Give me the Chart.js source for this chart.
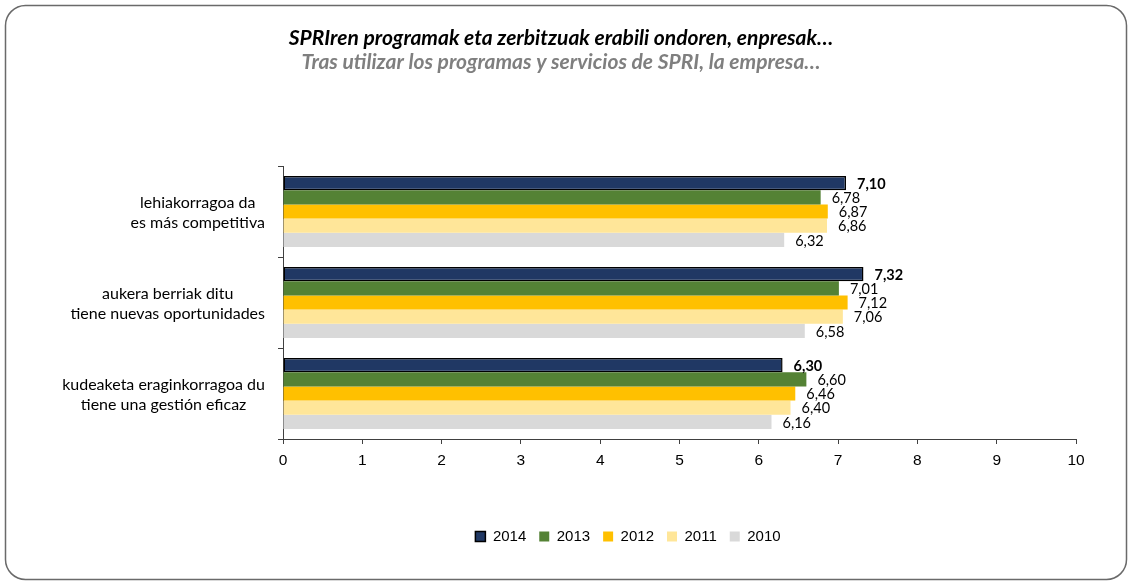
<!DOCTYPE html>
<html>
<head>
<meta charset="utf-8">
<script src="https://cdn.jsdelivr.net/npm/chart.js@4.4.1/dist/chart.umd.min.js"></script>
<style>
html,body{margin:0;padding:0;background:#fff;}
#wrap{position:relative;width:1132px;height:585px;}
</style>
</head>
<body>
<div id="wrap"><canvas id="c"></canvas></div>
<script>
// ---- data ----
const categories = [
  ['lehiakorragoa da', 'es más competitiva'],
  ['aukera berriak ditu', 'tiene nuevas oportunidades'],
  ['kudeaketa eraginkorragoa du', 'tiene una gestión eficaz']
];
const seriesNames = ['2014', '2013', '2012', '2011', '2010'];
const values2014 = [7.10, 7.32, 6.30];
const values2013 = [6.78, 7.01, 6.60];
const values2012 = [6.87, 7.12, 6.46];
const values2011 = [6.86, 7.06, 6.40];
const values2010 = [6.32, 6.58, 6.16];
const xTickLabels = ['0','1','2','3','4','5','6','7','8','9','10'];
const titleText = 'SPRIren programak eta zerbitzuak erabili ondoren, enpresak…';
const subtitleText = 'Tras utilizar los programas y servicios de SPRI, la empresa…';

// ---- styles ----
const colors = ['#203864', '#548235', '#FFC000', '#FFE699', '#D9D9D9'];
const seriesValues = [values2014, values2013, values2012, values2011, values2010];
const FONT = 'Lato, Carlito, Calibri, sans-serif';
const ARIAL = '"Liberation Sans", Arial, sans-serif';
const AXIS_COLOR = '#404040';

const datasets = seriesNames.map((name, i) => ({
  label: name,
  data: seriesValues[i],
  backgroundColor: colors[i],
  borderColor: i === 0 ? '#000000' : colors[i],
  borderWidth: i === 0 ? 1.5 : 0,
  borderSkipped: false,
  barPercentage: 1.0,
  categoryPercentage: 0.78
}));

const framePlugin = {
  id: 'frame',
  beforeDraw(chart) {
    const ctx = chart.ctx;
    ctx.save();
    ctx.fillStyle = '#fff';
    ctx.fillRect(0, 0, chart.width, chart.height);
    ctx.beginPath();
    ctx.roundRect(5.5, 5.5, 1121, 574, 20);
    ctx.lineWidth = 1.5;
    ctx.strokeStyle = '#6a6a6a';
    ctx.stroke();
    ctx.restore();
  }
};

const legendShiftPlugin = {
  id: 'legendShift',
  afterLayout(chart) {
    const lg = chart.legend;
    if (!lg) return;
    const dx = 628 - (lg.left + lg.right) / 2;
    lg.left += dx;
    lg.right += dx;
  }
};

const valueLabelPlugin = {
  id: 'valueLabels',
  afterDatasetsDraw(chart) {
    const ctx = chart.ctx;
    ctx.save();
    ctx.textBaseline = 'middle';
    ctx.textAlign = 'left';
    ctx.fillStyle = '#000';
    chart.data.datasets.forEach((ds, di) => {
      const meta = chart.getDatasetMeta(di);
      meta.data.forEach((bar, j) => {
        const v = ds.data[j];
        ctx.font = (di === 0 ? 'bold ' : '') + '14.5px ' + FONT;
        ctx.fillText(v.toFixed(2).replace('.', ','), bar.x + 11, bar.y + 1);
      });
    });
    ctx.restore();
  }
};

const yLabelPlugin = {
  id: 'yLabels',
  afterDraw(chart) {
    const ctx = chart.ctx;
    const ys = chart.scales.y;
    ctx.save();
    ctx.font = '16px ' + FONT;
    ctx.fillStyle = '#000';
    ctx.textAlign = 'center';
    ctx.textBaseline = 'middle';
    const lh = 20;
    chart.data.labels.forEach((lines, i) => {
      const yc = ys.getPixelForValue(i);
      const widest = Math.max(...lines.map(l => ctx.measureText(l).width));
      const cx = ys.right - 18 - widest / 2;
      const y0 = yc - (lines.length - 1) * lh / 2;
      lines.forEach((l, k) => ctx.fillText(l, cx, y0 + k * lh + 1));
    });
    ctx.restore();
  }
};

new Chart(document.getElementById('c'), {
  type: 'bar',
  data: { labels: categories, datasets },
  options: {
    indexAxis: 'y',
    responsive: true,
    maintainAspectRatio: false,
    animation: false,
    devicePixelRatio: 1,
    layout: { padding: { left: 46, right: 56, top: 0, bottom: 31 } },
    scales: {
      x: {
        type: 'linear',
        min: 0, max: 10,
        afterFit(scale) { scale.height = 77; },
        ticks: {
          stepSize: 1,
          padding: 7,
          color: '#000',
          font: { family: ARIAL, size: 15.5 },
          callback: (v, i) => xTickLabels[i]
        },
        grid: { drawOnChartArea: false, drawTicks: true, tickLength: 5, color: AXIS_COLOR },
        border: { display: true, color: AXIS_COLOR, width: 1 }
      },
      y: {
        type: 'category',
        afterFit(scale) { scale.width = 283 - 46; },
        ticks: { display: false },
        grid: { drawOnChartArea: false, drawTicks: true, tickLength: 5, offset: true, color: AXIS_COLOR },
        border: { display: true, color: AXIS_COLOR, width: 1 }
      }
    },
    plugins: {
      title: {
        display: true,
        text: titleText,
        color: '#000',
        font: { family: FONT, size: 21, weight: 'bold', style: 'italic', lineHeight: 1.0 },
        padding: { top: 27.5, bottom: 3 }
      },
      subtitle: {
        display: true,
        text: subtitleText,
        color: '#7F7F7F',
        font: { family: FONT, size: 21, weight: 'bold', style: 'italic', lineHeight: 1.0 },
        padding: { top: 0, bottom: 93.5 }
      },
      legend: {
        display: true,
        position: 'bottom',
        labels: {
          boxWidth: 10,
          boxHeight: 10,
          padding: 13,
          color: '#000',
          font: { family: ARIAL, size: 15 }
        }
      },
      tooltip: { enabled: false }
    }
  },
  plugins: [framePlugin, legendShiftPlugin, valueLabelPlugin, yLabelPlugin]
});
</script>
</body>
</html>
